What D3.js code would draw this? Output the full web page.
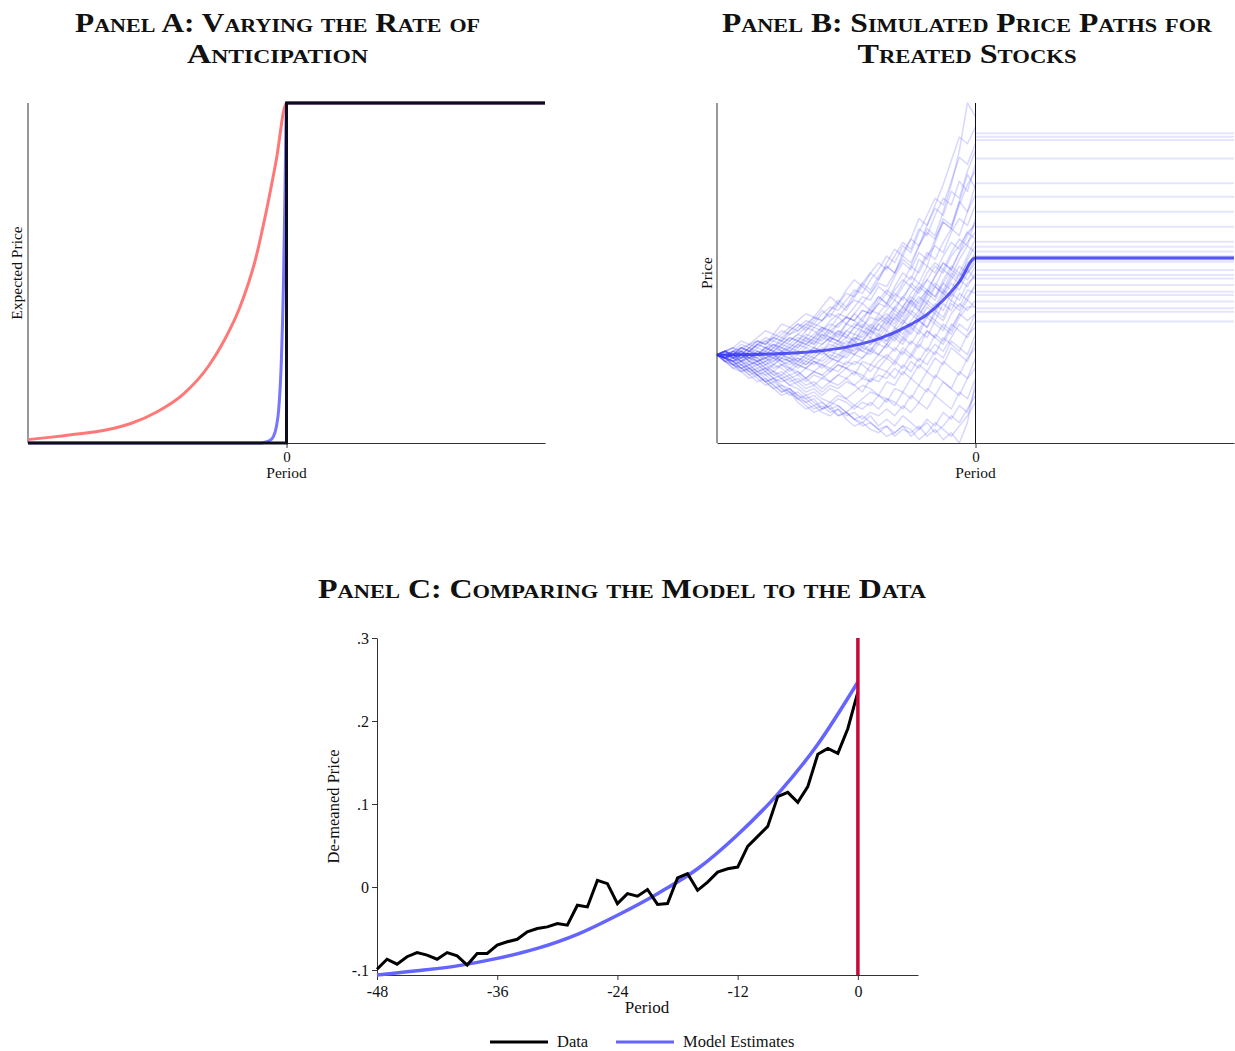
<!DOCTYPE html>
<html>
<head>
<meta charset="utf-8">
<script src="https://cdn.jsdelivr.net/npm/d3@7"></script>
<style>
  body { margin: 0; background: #fff; }
  text { font-family: "Liberation Serif", "Times New Roman", serif; fill: #111; }
</style>
</head>
<body>
<svg id="chart" width="1235" height="1051"></svg>
<script>
// ---------- Panel A: expected price under slow / fast / no anticipation ----------
const slowPeriods = [-50, -45, -40, -35, -30, -25, -20, -15, -12, -9, -6, -4, -2, 0, 50];
const slowPrice   = [0.010, 0.018, 0.027, 0.038, 0.058, 0.092, 0.143, 0.228, 0.303, 0.40, 0.54, 0.675, 0.83, 1, 1];
const fastPeriods = [-50, -5, -4, -3, -2.5, -2, -1.5, -1, -0.6, -0.3, 0, 50];
const fastPrice   = [0, 0, 0.003, 0.01, 0.02, 0.045, 0.1, 0.24, 0.46, 0.73, 1, 1];
const stepPeriods = [-50, 0, 0, 50];
const stepPrice   = [0, 0, 1, 1];

// ---------- Panel B: simulated price paths of treated stocks ----------
const simPaths = [
  "26 27 26 28 29 28 30 31 30 32 33 35 34 36 38 37 40 42 41 44 47 46 50 54 52 58 63 61 68 76 86 100 96",
  "26 25 27 28 27 29 31 30 32 34 33 35 37 36 39 41 44 43 47 50 48 53 57 55 60 66 64 70 76 83 90 88 93",
  "26 27 28 27 29 30 29 31 33 32 34 36 35 38 40 39 42 45 44 48 51 55 53 58 56 62 67 72 70 77 84 82 88",
  "26 25 26 27 26 28 27 29 28 30 32 31 34 33 36 38 37 40 43 42 46 44 49 53 51 56 54 60 65 63 70 76 80",
  "26 27 25 26 28 27 26 28 27 29 31 30 32 34 33 31 35 38 36 40 43 41 45 48 46 51 56 54 59 63 61 68 73",
  "26 26 27 25 27 29 28 27 29 31 30 33 35 34 32 35 37 36 39 38 42 45 43 47 52 50 55 58 56 62 66 64 70",
  "26 25 24 26 25 27 26 28 30 29 28 31 30 33 35 34 37 36 34 38 41 40 44 42 47 45 50 53 51 56 60 58 66",
  "26 27 26 25 27 26 28 29 27 28 30 29 31 30 33 32 35 34 37 39 38 41 39 43 46 44 48 52 50 55 58 62 64",
  "26 25 26 24 25 27 26 25 27 26 28 30 29 32 31 30 33 35 34 37 36 39 42 40 44 47 45 49 53 51 56 59 62",
  "26 26 25 27 26 25 27 26 28 27 29 28 30 29 31 33 32 30 34 33 36 38 36 40 43 41 45 43 48 52 50 55 60",
  "26 27 26 27 25 26 28 27 26 28 27 29 28 31 30 32 31 34 33 31 35 37 40 38 42 39 44 47 45 50 48 54 58",
  "26 25 26 25 27 26 24 26 25 27 26 28 27 29 31 30 28 32 31 34 33 36 34 38 41 39 43 46 44 49 47 52 56",
  "26 26 27 26 24 26 25 27 26 25 27 26 28 27 30 29 31 30 33 32 35 33 37 40 38 42 45 43 47 51 49 53 55",
  "26 25 24 25 26 24 25 23 25 24 26 25 27 26 28 30 29 31 30 33 32 35 38 36 40 43 41 46 44 48 52 50 54",
  "26 27 25 24 26 25 23 24 26 25 24 26 25 27 29 28 30 29 32 35 33 37 35 39 42 40 44 42 47 45 50 48 52",
  "26 25 26 27 25 24 25 26 24 23 25 24 26 28 27 29 28 31 30 33 31 34 37 35 39 37 42 40 45 43 48 46 50",
  "26 26 25 24 25 23 24 25 23 24 22 24 23 25 27 26 28 27 30 29 32 30 34 32 36 39 37 41 39 44 42 47 49",
  "26 25 24 25 23 24 22 23 25 24 23 25 24 22 24 26 25 28 27 29 31 30 33 31 35 33 38 36 41 39 44 42 47",
  "26 27 25 26 24 23 24 22 23 21 23 22 24 23 25 24 27 26 28 27 30 32 30 34 32 36 34 39 37 42 40 45 44",
  "26 25 26 24 23 24 22 21 23 22 20 22 21 23 22 24 23 26 25 27 26 29 32 30 34 32 37 35 33 38 41 39 42",
  "26 26 24 23 24 22 23 21 20 22 21 19 21 20 22 21 24 23 25 28 26 29 27 31 29 33 31 36 34 32 37 40 40",
  "26 25 24 22 23 21 22 20 21 19 20 18 20 19 21 23 22 20 24 23 26 25 28 26 30 28 33 31 29 34 38 36 38",
  "26 25 23 24 22 21 22 20 19 20 18 19 17 19 18 20 22 21 19 23 22 25 23 27 25 29 27 32 30 35 33 31 36",
  "26 24 25 23 22 23 21 19 20 18 19 17 18 16 18 17 19 21 20 18 22 21 24 22 26 24 28 26 31 29 27 32 34",
  "26 25 23 22 23 21 20 21 19 17 18 16 17 15 17 16 18 17 15 19 18 21 19 23 21 25 23 27 25 30 28 26 32",
  "26 24 23 24 22 20 21 19 18 19 17 15 16 14 16 15 13 15 17 16 14 18 17 21 19 23 21 25 23 28 26 24 30",
  "26 25 24 22 21 22 20 18 19 17 16 14 15 13 12 14 13 11 13 15 14 12 16 15 19 17 21 19 24 22 20 25 28",
  "26 24 25 23 21 20 18 19 17 16 14 12 13 10 11 13 12 10 12 11 14 13 11 15 13 17 15 20 18 16 21 19 25",
  "26 25 23 22 20 21 19 17 15 16 13 11 9 10 12 11 9 11 10 12 10 13 12 10 14 12 16 14 18 16 14 19 22",
  "26 24 23 21 22 20 18 19 16 15 13 12 10 11 9 10 8 9 7 9 8 10 8 11 9 12 10 14 12 10 15 13 19",
  "26 25 24 22 20 18 19 17 15 16 14 13 11 12 10 8 9 7 6 8 5 7 5 8 6 4 7 5 9 7 11 9 16",
  "26 24 22 23 21 19 17 18 16 14 15 13 14 12 10 11 9 7 8 6 4 5 3 5 2 4 6 3 5 8 6 10 14",
  "26 25 23 21 22 20 18 16 17 15 13 14 12 10 11 8 9 7 5 6 4 2 3 5 4 1 3 6 4 2 5 8 12",
  "26 24 22 21 19 20 18 16 14 15 12 10 11 9 8 10 7 5 6 4 3 5 2 4 3 5 2 4 1 3 0 6 18",
  "26 27 28 30 29 31 33 32 35 34 36 38 37 40 43 41 45 48 46 50 53 51 55 59 57 63 61 67 72 70 77 74 82",
  "26 25 27 29 28 30 29 32 31 33 35 34 37 36 39 42 40 44 47 45 49 52 50 55 53 58 62 60 66 64 71 68 76",
  "26 27 26 28 27 29 28 30 29 31 30 32 31 34 33 35 37 36 39 38 41 44 42 46 49 47 52 50 55 59 57 62 60",
  "26 25 27 26 28 26 27 29 28 27 29 31 29 32 30 33 31 34 36 34 38 36 40 43 41 45 48 46 51 49 54 58 56",
  "26 26 25 27 25 24 26 25 27 26 24 26 28 27 25 28 27 30 28 31 29 33 31 35 38 36 40 38 43 47 45 50 53",
  "26 25 26 24 26 25 23 25 24 22 24 23 25 24 26 25 28 26 29 27 31 29 33 36 34 38 41 39 44 42 47 51 48",
  "26 27 25 26 25 27 25 24 26 24 25 23 25 27 25 24 26 29 27 26 29 28 31 29 33 36 34 38 36 41 39 43 46",
  "26 26 27 25 26 24 25 26 24 25 23 22 24 23 21 23 22 24 23 21 24 26 24 28 26 30 33 31 35 33 38 42 40",
  "26 25 24 26 24 23 21 23 22 20 21 19 21 20 18 20 19 17 19 18 20 19 22 20 24 22 26 29 27 31 35 33 38",
  "26 27 26 28 27 26 28 27 29 28 30 29 31 33 31 30 33 32 35 33 37 35 39 37 42 46 44 49 53 51 56 61 65",
  "26 25 26 28 27 29 30 28 31 30 32 34 33 31 34 37 35 38 41 39 43 41 46 50 48 54 52 59 65 63 71 79 75",
  "26 27 28 26 28 30 29 31 30 33 35 33 36 39 37 41 39 43 46 44 48 52 50 56 60 58 64 69 67 74 72 80 86"
];
// post-event price levels of the individual stocks
const postLevels = [91.1, 90.1, 89.1, 83.7, 76.4, 72.4, 68.0, 63.6, 59.2, 57.7, 56.3, 55.0, 54.6, 54.3,
                    54.0, 53.3, 50.9, 49.4, 48.4, 46.5, 44.5, 43.5, 41.6, 39.6, 38.6, 35.7];
// average expected path
const meanPeriods = [-32, -28, -24, -20, -16, -12, -8, -6, -4, -2, 0, 32];
const meanPrice   = [25.8, 26.0, 26.3, 26.9, 28.2, 30.6, 34.9, 37.8, 42.0, 47.4, 54.4, 54.4];

// ---------- Panel C: model vs data ----------
const dataPeriods = d3.range(-48, 1);
const dataValues = [
  -0.099, -0.087, -0.093, -0.084, -0.079, -0.082, -0.087, -0.079, -0.083, -0.094,
  -0.080, -0.080, -0.070, -0.066, -0.063, -0.054, -0.050, -0.048, -0.044, -0.046,
  -0.022, -0.024, 0.008, 0.004, -0.020, -0.008, -0.011, -0.003, -0.021, -0.020,
  0.011, 0.016, -0.004, 0.006, 0.018, 0.022, 0.024, 0.049, 0.061, 0.073,
  0.109, 0.114, 0.102, 0.121, 0.160, 0.167, 0.161, 0.191, 0.235
];
const modelPeriods = [-48, -44, -40, -36, -32, -28, -24, -20, -16, -12, -8, -4, 0];
const modelValues  = [-0.106, -0.101, -0.095, -0.086, -0.074, -0.057, -0.034, -0.008, 0.022, 0.063, 0.112, 0.172, 0.247];
const xTicksC = [-48, -36, -24, -12, 0];
const yTicksC = [-0.1, 0, 0.1, 0.2, 0.3];
const yTickLabelsC = ["-.1", "0", ".1", ".2", ".3"];
const legendLabels = ["Data", "Model Estimates"];

const svg = d3.select("#chart");
const axisColor = "#333";

// small-caps panel heading; each line is stretched to its set width
function title(lines, widths, cx, y0, gap) {
  const t = svg.append("text")
    .attr("text-anchor", "middle")
    .style("font-size", "27px")
    .style("font-weight", "bold")
    .style("font-variant", "small-caps");
  lines.forEach((s, i) => {
    t.append("tspan").attr("x", cx).attr("y", y0 + i * gap)
      .attr("textLength", widths[i]).attr("lengthAdjust", "spacingAndGlyphs").text(s);
  });
}

function styleAxis(a, size) {
  a.select(".domain").attr("stroke", axisColor);
  a.selectAll(".tick line").attr("stroke", axisColor);
  a.selectAll("text").style("font-size", size).style("font-family", "Liberation Serif").attr("fill", "#111");
}

// ===== Panel A =====
{
  const x = d3.scaleLinear().domain([-50, 50]).range([28, 545]);
  const y = d3.scaleLinear().domain([0, 1]).range([443, 103]);
  title(["Panel A: Varying the Rate of", "Anticipation"], [405, 181], 277.5, 32, 31);
  const g = svg.append("g");
  g.append("line").attr("x1", x(-50)).attr("x2", x(-50)).attr("y1", y(1)).attr("y2", y(0))
    .attr("stroke", axisColor).attr("stroke-width", 1);
  const xa = g.append("g").attr("transform", `translate(0,${y(0)})`)
    .call(d3.axisBottom(x).tickValues([0]).tickSize(5).tickSizeOuter(0).tickPadding(3));
  styleAxis(xa, "15px");
  g.append("text").attr("x", x(0)).attr("y", 478).attr("text-anchor", "middle")
    .style("font-size", "15.5px").text("Period");
  g.append("text").attr("transform", `translate(22,${(y(0) + y(1)) / 2}) rotate(-90)`)
    .attr("text-anchor", "middle").style("font-size", "15.5px").text("Expected Price");

  const line = d3.line().x(d => x(d[0])).y(d => y(d[1]));
  g.append("path").datum(d3.zip(slowPeriods, slowPrice))
    .attr("d", line.curve(d3.curveMonotoneX)).attr("fill", "none")
    .attr("stroke", "#ff7878").attr("stroke-width", 3);
  g.append("path").datum(d3.zip(fastPeriods, fastPrice))
    .attr("d", line.curve(d3.curveMonotoneX)).attr("fill", "none")
    .attr("stroke", "#7676ff").attr("stroke-width", 3);
  g.append("path").datum(d3.zip(stepPeriods, stepPrice))
    .attr("d", line.curve(d3.curveLinear)).attr("fill", "none")
    .attr("stroke", "#0d0d1c").attr("stroke-width", 3);
}

// ===== Panel B =====
{
  const x = d3.scaleLinear().domain([-32, 32]).range([717, 1234]);
  const y = d3.scaleLinear().domain([0, 100]).range([443, 103]);
  title(["Panel B: Simulated Price Paths for", "Treated Stocks"], [490, 219], 967, 32, 31);
  const g = svg.append("g");
  const line = d3.line().x(d => x(d[0])).y(d => y(d[1]));
  const periods = d3.range(-32, 1);

  // post-event levels
  g.selectAll(".post").data(postLevels).join("line")
    .attr("x1", x(0)).attr("x2", x(32)).attr("y1", d => y(d)).attr("y2", d => y(d))
    .attr("stroke", "#4646ff").attr("stroke-opacity", 0.14).attr("stroke-width", 2);

  // individual paths
  g.selectAll(".sim").data(simPaths.map(s => s.trim().split(/\s+/).map(Number))).join("path")
    .attr("d", vals => line(d3.zip(periods, vals)))
    .attr("fill", "none").attr("stroke", "#3c3cff")
    .attr("stroke-opacity", 0.2).attr("stroke-width", 1.5).attr("stroke-linejoin", "round");

  // mean path
  g.append("path").datum(d3.zip(meanPeriods, meanPrice))
    .attr("d", line.curve(d3.curveMonotoneX)).attr("fill", "none")
    .attr("stroke", "#3434f2").attr("stroke-opacity", 0.8).attr("stroke-width", 3);

  // axes
  g.append("line").attr("x1", x(-32)).attr("x2", x(-32)).attr("y1", y(100)).attr("y2", y(0))
    .attr("stroke", axisColor);
  g.append("line").attr("x1", x(0)).attr("x2", x(0)).attr("y1", y(100)).attr("y2", y(0))
    .attr("stroke", "#111");
  const xa = g.append("g").attr("transform", `translate(0,${y(0)})`)
    .call(d3.axisBottom(x).tickValues([0]).tickSize(5).tickSizeOuter(0).tickPadding(3));
  styleAxis(xa, "15px");
  g.append("text").attr("x", x(0)).attr("y", 478).attr("text-anchor", "middle")
    .style("font-size", "15.5px").text("Period");
  g.append("text").attr("transform", `translate(712,${(y(0) + y(100)) / 2}) rotate(-90)`)
    .attr("text-anchor", "middle").style("font-size", "15.5px").text("Price");
}

// ===== Panel C =====
{
  const x = d3.scaleLinear().domain([-48, 6]).range([377, 918]);
  const y = d3.scaleLinear().domain([-0.106, 0.3]).range([975, 638]);
  title(["Panel C: Comparing the Model to the Data"], [608], 622, 598, 0);
  const g = svg.append("g");

  const ya = g.append("g").attr("transform", `translate(${x(-48)},0)`)
    .call(d3.axisLeft(y).tickValues(yTicksC).tickFormat((d, i) => yTickLabelsC[i])
      .tickSize(5).tickSizeOuter(0).tickPadding(3));
  const xa = g.append("g").attr("transform", `translate(0,${y(-0.106)})`)
    .call(d3.axisBottom(x).tickValues(xTicksC).tickFormat(d => String(d))
      .tickSize(5).tickSizeOuter(0).tickPadding(6));
  styleAxis(ya, "16px");
  styleAxis(xa, "16px");

  g.append("text").attr("x", 647).attr("y", 1013).attr("text-anchor", "middle")
    .style("font-size", "17px").text("Period");
  g.append("text").attr("transform", `translate(339,${(y(-0.106) + y(0.3)) / 2}) rotate(-90)`)
    .attr("text-anchor", "middle").style("font-size", "16.5px").text("De-meaned Price");

  const line = d3.line().x(d => x(d[0])).y(d => y(d[1]));
  g.append("path").datum(d3.zip(modelPeriods, modelValues))
    .attr("d", line.curve(d3.curveMonotoneX)).attr("fill", "none")
    .attr("stroke", "#6464ff").attr("stroke-width", 3.5);
  g.append("path").datum(d3.zip(dataPeriods, dataValues))
    .attr("d", line.curve(d3.curveLinear)).attr("fill", "none")
    .attr("stroke", "#000").attr("stroke-width", 3).attr("stroke-linejoin", "miter");

  // event date
  g.append("line").attr("x1", x(0)).attr("x2", x(0)).attr("y1", y(0.3)).attr("y2", y(-0.106))
    .attr("stroke", "#c8073a").attr("stroke-width", 3.5);

  // legend
  const legendColors = ["#000", "#6464ff"];
  const legendX = [490, 616];
  legendLabels.forEach((lab, i) => {
    g.append("line").attr("x1", legendX[i]).attr("x2", legendX[i] + 58)
      .attr("y1", 1042).attr("y2", 1042)
      .attr("stroke", legendColors[i]).attr("stroke-width", 3);
    g.append("text").attr("x", legendX[i] + 67).attr("y", 1047)
      .style("font-size", "16.5px").text(lab);
  });
}
</script>
</body>
</html>
